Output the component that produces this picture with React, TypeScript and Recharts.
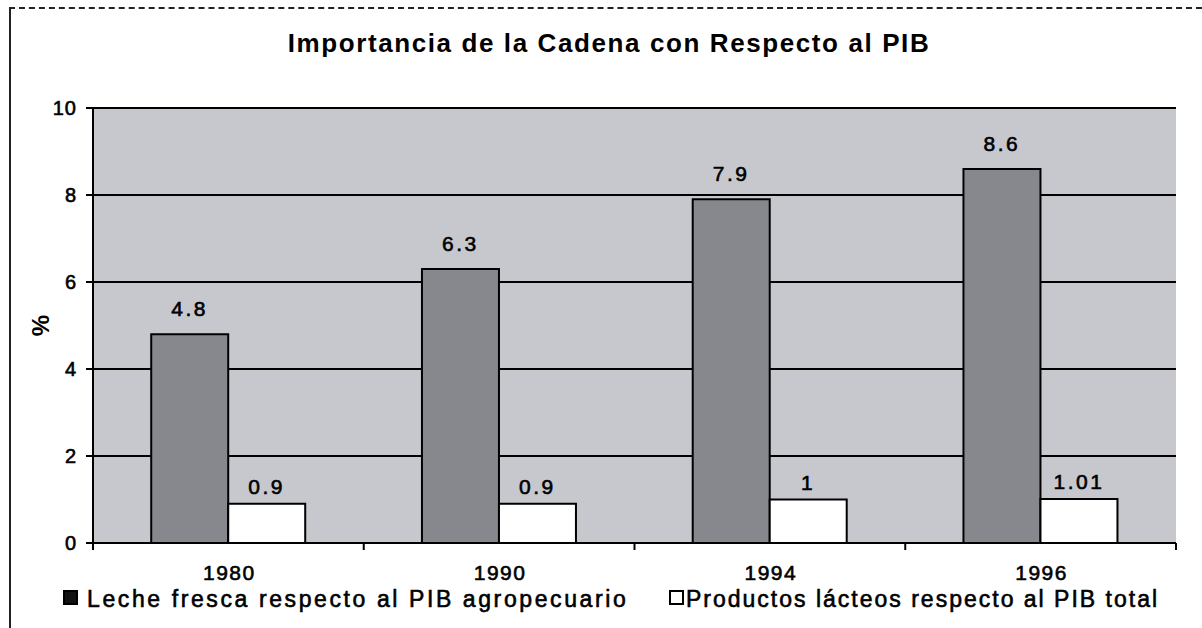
import React from 'react';
import { BarChart, Bar, XAxis, YAxis, CartesianGrid, LabelList, Legend } from 'recharts';

const years = ['1980', '1990', '1994', '1996'];
const lecheFresca = [4.8, 6.3, 7.9, 8.6];
const productosLacteos = [0.9, 0.9, 1, 1.01];
const yTicks = [0, 2, 4, 6, 8, 10];
const titleText = 'Importancia de la Cadena con Respecto al PIB';
const seriesNames = ['Leche fresca respecto al PIB agropecuario', 'Productos lácteos respecto al PIB total'];
const yLabel = '%';

const data = years.map((y, i) => ({ year: y, leche: lecheFresca[i], lacteos: productosLacteos[i] }));

const FONT = '"Liberation Sans", Arial, sans-serif';

const XTick = (props: any) => {
  const { x, y, payload, index, visibleTicksCount, width } = props;
  const n = visibleTicksCount || years.length;
  const band = (width || 1083) / n;
  const left = x - band / 2;
  const right = x + band / 2;
  return (
    <g>
      <line x1={left} x2={left} y1={y} y2={y + 7} stroke="#000" strokeWidth={2} />
      {index === n - 1 ? <line x1={right} x2={right} y1={y} y2={y + 7} stroke="#000" strokeWidth={2} /> : null}
      <text x={x + 1} y={y + 37} textAnchor="middle" fontFamily={FONT} fontSize={21} fill="#000" stroke="#000" strokeWidth={0.6} style={{ letterSpacing: '1.5px' }}>
        {payload.value}
      </text>
    </g>
  );
};

const YTick = (props: any) => {
  const { x, y, payload } = props;
  return (
    <text x={x} y={y + 7} textAnchor="end" fontFamily={FONT} fontSize={20} fill="#000" stroke="#000" strokeWidth={0.6} style={{ letterSpacing: '1px' }}>
      {payload.value}
    </text>
  );
};

const PercentLabel = (props: any) => {
  const vb = props.viewBox || { x: 0, y: 108, width: 93, height: 435 };
  const cx = vb.x + 40;
  const cy = vb.y + vb.height / 2;
  return (
    <text x={cx} y={cy} transform={`rotate(-90 ${cx} ${cy})`} textAnchor="middle" dominantBaseline="central" fontFamily={FONT} fontSize={24} fontWeight="bold" fill="#000">
      {yLabel}
    </text>
  );
};

const legendText: React.CSSProperties = {
  position: 'absolute',
  top: 590.5,
  fontFamily: FONT,
  fontSize: 23,
  lineHeight: '16px',
  whiteSpace: 'nowrap',
  color: '#000',
  WebkitTextStroke: '0.6px #000',
};

const LegendContent = () => (
  <div style={{ position: 'relative', height: 0, width: 1202 }}>
    <div style={{ position: 'absolute', left: 63, top: 590, width: 11, height: 11, background: '#111', border: '2px solid #000' }} />
    <div style={{ ...legendText, left: 87, letterSpacing: '2.6px' }}>{seriesNames[0]}</div>
    <div style={{ position: 'absolute', left: 669, top: 590, width: 11, height: 11, background: '#fff', border: '2px solid #000' }} />
    <div style={{ ...legendText, left: 686, letterSpacing: '2px' }}>{seriesNames[1]}</div>
  </div>
);

const labelStyle = { letterSpacing: '2.5px' };

export default function App() {
  return (
    <div style={{ position: 'absolute', left: 0, top: 0, width: 1202, height: 628, background: '#fff', overflow: 'hidden' }}>
      <div style={{ position: 'absolute', left: 9, top: 7, width: 1193, height: 0, borderTop: '2px dashed #222' }} />
      <div style={{ position: 'absolute', left: 9, top: 7, width: 0, height: 621, borderLeft: '2px solid #222' }} />
      <div style={{ position: 'absolute', left: 0, width: 1218, top: 30, textAlign: 'center', fontFamily: FONT, fontSize: 26, lineHeight: '26px', fontWeight: 'bold', letterSpacing: '1.6px', color: '#000', whiteSpace: 'nowrap' }}>
        {titleText}
      </div>
      <BarChart width={1202} height={628} data={data} margin={{ top: 108, right: 26, bottom: 35, left: 0 }} barCategoryGap="21.5%" barGap={0}>
        <CartesianGrid horizontal vertical={false} stroke="#000" strokeWidth={2} fill="#c6c8cd" fillOpacity={1} />
        <XAxis dataKey="year" height={50} tickSize={0} tickMargin={0} tickLine={false} axisLine={{ stroke: '#000', strokeWidth: 2 }} tick={<XTick />} interval={0} />
        <YAxis width={93} domain={[0, 10]} ticks={yTicks} interval={0} tickSize={7} tickMargin={9} tickLine={{ stroke: '#000', strokeWidth: 2 }} axisLine={{ stroke: '#000', strokeWidth: 2 }} tick={<YTick />} label={<PercentLabel />} />
        <Legend content={<LegendContent />} wrapperStyle={{ left: 0, top: 0, width: 1202, height: 0 }} />
        <Bar dataKey="leche" name={seriesNames[0]} fill="#86888e" stroke="#000" strokeWidth={2} isAnimationActive={false}>
          <LabelList dataKey="leche" position="top" offset={18} fill="#000" stroke="#000" strokeWidth={0.6} fontFamily={FONT} fontSize={21} style={labelStyle} />
        </Bar>
        <Bar dataKey="lacteos" name={seriesNames[1]} fill="#ffffff" stroke="#000" strokeWidth={2} isAnimationActive={false}>
          <LabelList dataKey="lacteos" position="top" offset={10} fill="#000" stroke="#000" strokeWidth={0.6} fontFamily={FONT} fontSize={21} style={labelStyle} />
        </Bar>
      </BarChart>
    </div>
  );
}
